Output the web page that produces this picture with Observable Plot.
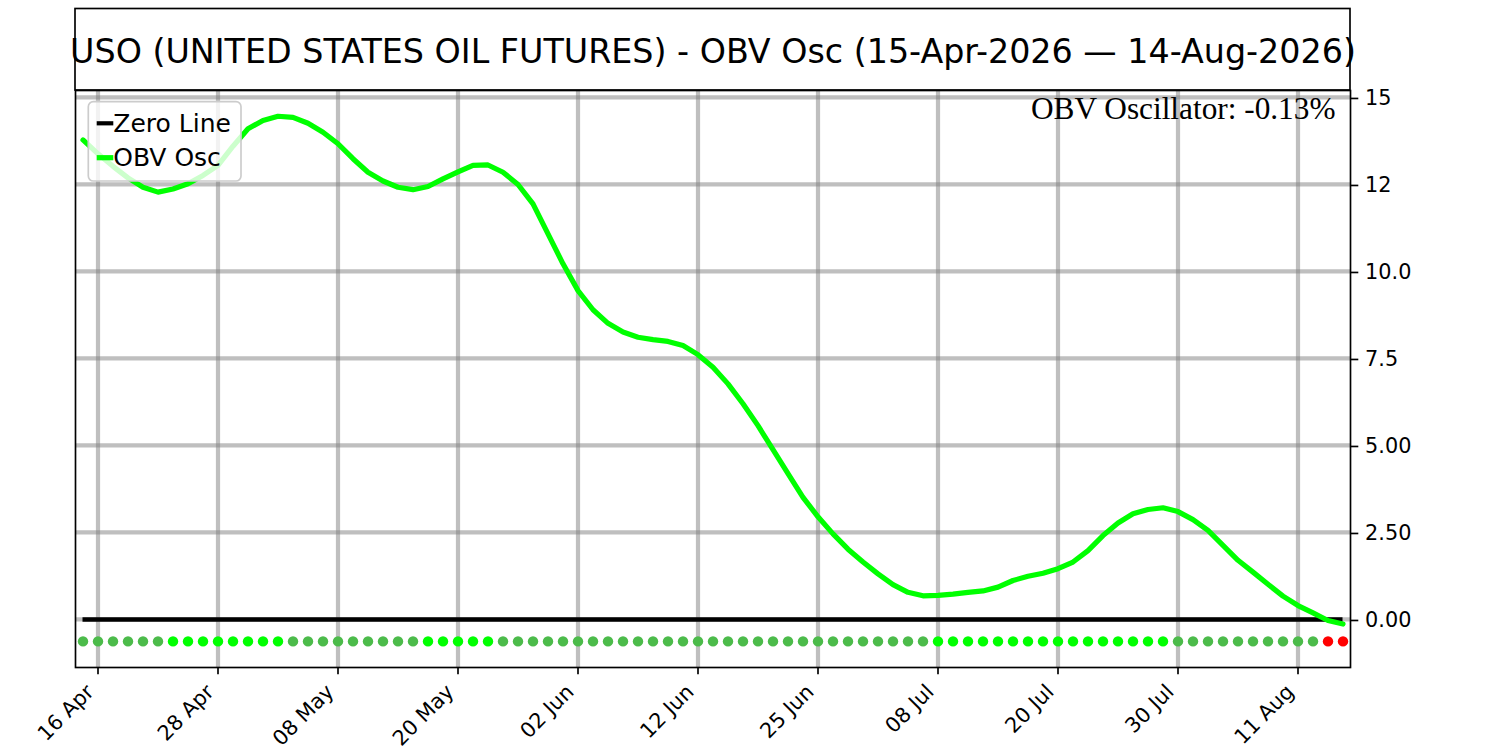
<!DOCTYPE html>
<html>
<head>
<meta charset="utf-8">
<script src="https://cdn.jsdelivr.net/npm/d3@7"></script>
<script src="https://cdn.jsdelivr.net/npm/@observablehq/plot@0.6"></script>
<style>
  body { margin: 0; background: #ffffff; }
  svg { display: block; }
</style>
</head>
<body>
<div id="chart"></div>
<script>
// ---- Data ----
const titleText = "USO (UNITED STATES OIL FUTURES) - OBV Osc (15-Apr-2026 \u2014 14-Aug-2026)";

// OBV oscillator, one value per trading day (15-Apr-2026 .. 14-Aug-2026)
const obv = [
  13.78, 13.38, 13.02, 12.69, 12.42, 12.28, 12.37, 12.52, 12.76, 13.05,
  13.60, 14.10, 14.34, 14.46, 14.43, 14.26, 14.00, 13.67, 13.24, 12.85,
  12.60, 12.42, 12.35, 12.44, 12.66, 12.86, 13.05, 13.06, 12.85, 12.50,
  11.94, 11.08, 10.22, 9.45, 8.90, 8.51, 8.26, 8.11, 8.04, 7.99,
  7.87, 7.61, 7.25, 6.77, 6.20, 5.57, 4.88, 4.19, 3.51, 2.95,
  2.46, 2.02, 1.65, 1.31, 1.00, 0.78, 0.68, 0.69, 0.73, 0.78,
  0.82, 0.93, 1.12, 1.24, 1.33, 1.46, 1.65, 1.98, 2.41, 2.77,
  3.04, 3.16, 3.21, 3.10, 2.87, 2.56, 2.13, 1.70, 1.36, 1.01,
  0.67, 0.40, 0.19, -0.03, -0.13
];

// Signal dot state per trading day
const dotState = [
  "down","down","down","down","down","down","up","up","up","up",
  "up","up","up","up","down","down","down","down","down","down",
  "down","down","down","up","up","up","up","up","down","down",
  "down","down","down","down","down","down","down","down","down","down",
  "down","down","down","down","down","down","down","down","down","down",
  "down","down","down","down","down","down","down","up","up","up",
  "up","up","up","up","up","up","up","up","up","up",
  "up","up","up","down","down","down","down","down","down","down",
  "down","down","down","neg","neg"
];
const stateColors = { down: "#4cbb4a", up: "#00ff00", neg: "#ff0000" };
const dotLevel = -0.63;

// X ticks: trading-day index and label
const tickIdx = [1, 9, 17, 25, 33, 41, 49, 57, 65, 73, 81];
const tickLabels = ["16 Apr", "28 Apr", "08 May", "20 May", "02 Jun", "12 Jun",
                    "25 Jun", "08 Jul", "20 Jul", "30 Jul", "11 Aug"];

// Y ticks and labels (as shown)
const yTicks = [0, 2.5, 5, 7.5, 10, 12.5, 15];
const yTickLabels = ["0.00", "2.50", "5.00", "7.5", "10.0", "12", "15"];

const legendItems = [
  { label: "Zero Line", color: "#000000", width: 4.2 },
  { label: "OBV Osc", color: "#00ff00", width: 5.2 }
];

// ---- Chart ----
const idx = obv.map((_, i) => i);
const gridStyle = { stroke: "#808080", strokeOpacity: 0.5, strokeWidth: 4.2 };

const chart = Plot.plot({
  width: 1500,
  height: 750,
  marginLeft: 75,
  marginRight: 150,
  marginTop: 90,
  marginBottom: 83,
  style: { fontFamily: "DejaVu Sans", background: "#ffffff", color: "#000000" },
  x: { domain: [-0.5, obv.length - 0.5], axis: null },
  y: { domain: [-1.38, 15.2], axis: null },
  color: { type: "identity" },
  marks: [
    Plot.gridX(tickIdx, gridStyle),
    Plot.gridY(yTicks, gridStyle),
    Plot.ruleY([0], { x1: () => 0, x2: () => obv.length - 1, stroke: "#000000", strokeWidth: 4.4 }),
    Plot.line(idx, { x: i => i, y: i => obv[i], stroke: "#00ff00", strokeWidth: 5.2 }),
    Plot.dot(idx, { x: i => i, y: () => dotLevel, fill: i => stateColors[dotState[i]], r: 5.2, stroke: null }),
    Plot.frame({ stroke: "#000000", strokeWidth: 1.67 }),
    Plot.axisY({
      anchor: "right", ticks: yTicks,
      tickFormat: d => yTickLabels[yTicks.indexOf(d)],
      tickSize: 7.3, tickPadding: 7.3, fontSize: 20.8,
      strokeWidth: 1.67, color: "#000000", dy: 1
    }),
    Plot.axisX({
      anchor: "bottom", ticks: tickIdx, tickSize: 7.3,
      tickFormat: () => "", strokeWidth: 1.67, color: "#000000"
    }),
    Plot.text(tickIdx, {
      x: d => d, text: (d, i) => tickLabels[i],
      frameAnchor: "bottom", rotate: -45, textAnchor: "end", lineAnchor: "bottom",
      dx: -3, dy: 25.6, fontSize: 20.8, fill: "#000000"
    }),
    Plot.text([obv[obv.length - 1]], {
      text: d => `OBV Oscillator: ${d.toFixed(2)}%`,
      frameAnchor: "top-right", textAnchor: "end", lineAnchor: "bottom",
      dx: -15, dy: 28.3, fontSize: 31.3, fontFamily: "Liberation Serif", fill: "#000000"
    }),
    Plot.text([titleText], {
      text: d => d, frameAnchor: "top", lineAnchor: "bottom",
      dy: -28, fontSize: 33.33, fill: "#000000"
    })
  ]
});

const svg = d3.select(chart);
// Title box
svg.append("rect")
  .attr("x", 75).attr("y", 8.5).attr("width", 1275).attr("height", 81.5)
  .attr("fill", "none").attr("stroke", "#000000").attr("stroke-width", 1.67);

// Legend
const lg = svg.append("g").attr("text-anchor", "start");
lg.append("rect")
  .attr("x", 88.3).attr("y", 101.7).attr("width", 152.7).attr("height", 79.3)
  .attr("rx", 5).attr("fill", "#ffffff").attr("fill-opacity", 0.8)
  .attr("stroke", "#cccccc").attr("stroke-width", 1.67);
legendItems.forEach((it, i) => {
  const y = 123.3 + i * 34.4;
  lg.append("line")
    .attr("x1", 96.7).attr("x2", 113.3).attr("y1", y).attr("y2", y)
    .attr("stroke", it.color).attr("stroke-width", it.width);
  lg.append("text")
    .attr("x", 113.3).attr("y", y + 8.2)
    .attr("text-anchor", "start")
    .attr("font-size", 25).attr("font-family", "DejaVu Sans").attr("fill", "#000000")
    .text(it.label);
});

document.getElementById("chart").appendChild(chart);
</script>
</body>
</html>
